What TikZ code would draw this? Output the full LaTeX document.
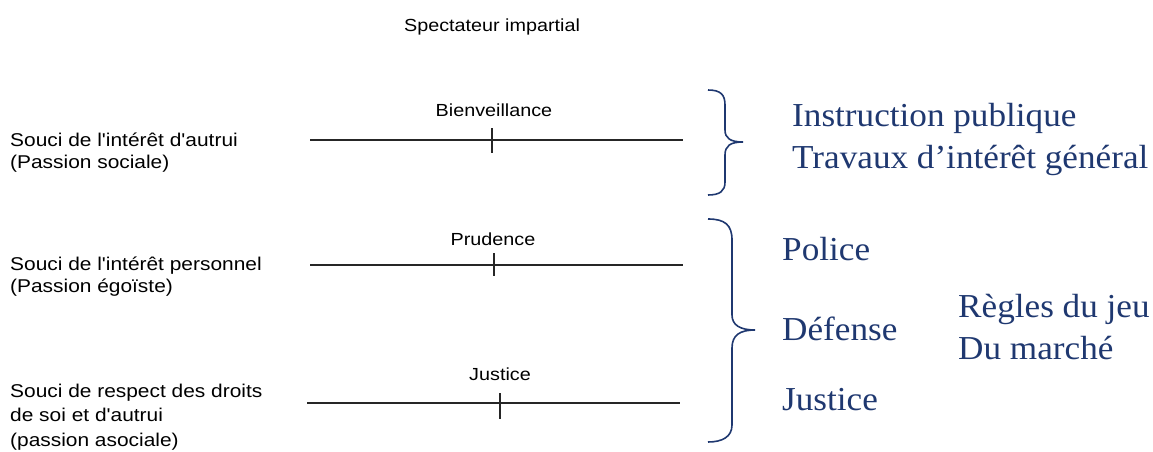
\documentclass[tikz,border=0pt]{standalone}
\usepackage{fontspec}
\newfontfamily\lsans[FakeStretch=1.13]{Liberation Sans}
\newfontfamily\lserif[FakeStretch=1.05]{Liberation Serif}
\definecolor{navy}{RGB}{31,56,112}
\tikzset{
  lefttxt/.style={anchor=base west, inner sep=0pt, font=\lsans\fontsize{18.5}{22}\selectfont},
  toptxt/.style={anchor=base, inner sep=0pt, font=\lsans\fontsize{17.5}{21}\selectfont},
  bluetxt/.style={anchor=base west, inner sep=0pt, text=navy, font=\lserif\fontsize{33.5}{40}\selectfont},
  scaleline/.style={draw=black!85, line width=1.3pt},
  tick/.style={draw=black!85, line width=1.2pt},
  brace/.style={draw=navy, line width=1.6pt}
}
\begin{document}
\begin{tikzpicture}[x=1pt,y=-1pt]
\useasboundingbox (0,0) rectangle (1153,452);
% title
\node[toptxt] (spec) at (492,32) {Spectateur impartial};
% row 1
\node[lefttxt] (l1a) at (10,146) {Souci de l'intérêt d'autrui};
\node[lefttxt] (l1b) at (10,168) {(Passion sociale)};
\coordinate (r1s) at (310,140);
\coordinate (r1e) at (683,140);
\coordinate (t1a) at (492,128);
\coordinate (t1b) at (492,153);
\draw[scaleline] (r1s) -- (r1e);
\draw[tick] (t1a) -- (t1b);
\node[toptxt] (bien) at (494,116) {Bienveillance};
% row 2
\node[lefttxt] (l2a) at (10,270) {Souci de l'intérêt personnel};
\node[lefttxt] (l2b) at (10,292) {(Passion égoïste)};
\coordinate (r2s) at (310,265);
\coordinate (r2e) at (683,265);
\coordinate (t2a) at (494,253);
\coordinate (t2b) at (494,276);
\draw[scaleline] (r2s) -- (r2e);
\draw[tick, line width=1.8pt] (t2a) -- (t2b);
\node[toptxt] (prud) at (493,245) {Prudence};
% row 3
\node[lefttxt] (l3a) at (10,397) {Souci de respect des droits};
\node[lefttxt] (l3b) at (10,421) {de soi et d'autrui};
\node[lefttxt] (l3c) at (10,446) {(passion asociale)};
\coordinate (r3s) at (307,403);
\coordinate (r3e) at (680,403);
\coordinate (t3a) at (500,393);
\coordinate (t3b) at (500,419);
\draw[scaleline, line width=2.8pt] (r3s) -- (r3e);
\draw[tick] (t3a) -- (t3b);
\node[toptxt] (just) at (500,380) {Justice};
% brace 1
\draw[brace] (708,90) .. controls (721,90) and (725,95) .. (725,105) -- (725,130)
  .. controls (725,138) and (730,142) .. (743,142)
  .. controls (730,142) and (725,146) .. (725,155) -- (725,182)
  .. controls (725,191) and (720,195) .. (708,195);
% brace 2
\draw[brace] (708,219) .. controls (725,219) and (732,225) .. (732,240) -- (732,315)
  .. controls (732,325) and (740,330) .. (755,330)
  .. controls (740,330) and (732,335) .. (732,348) -- (732,425)
  .. controls (732,437) and (722,442) .. (708,442);
% blue texts
\node[bluetxt] (instr) at (792,126) {Instruction publique};
\node[bluetxt] (trav) at (792,168) {Travaux d’intérêt général};
\node[bluetxt] (pol) at (782,260) {Police};
\node[bluetxt] (def) at (782,340) {Défense};
\node[bluetxt] (jus) at (782,410) {Justice};
\node[bluetxt] (regl) at (958,317) {Règles du jeu};
\node[bluetxt] (marc) at (958,359) {Du marché};
\end{tikzpicture}
\end{document}
